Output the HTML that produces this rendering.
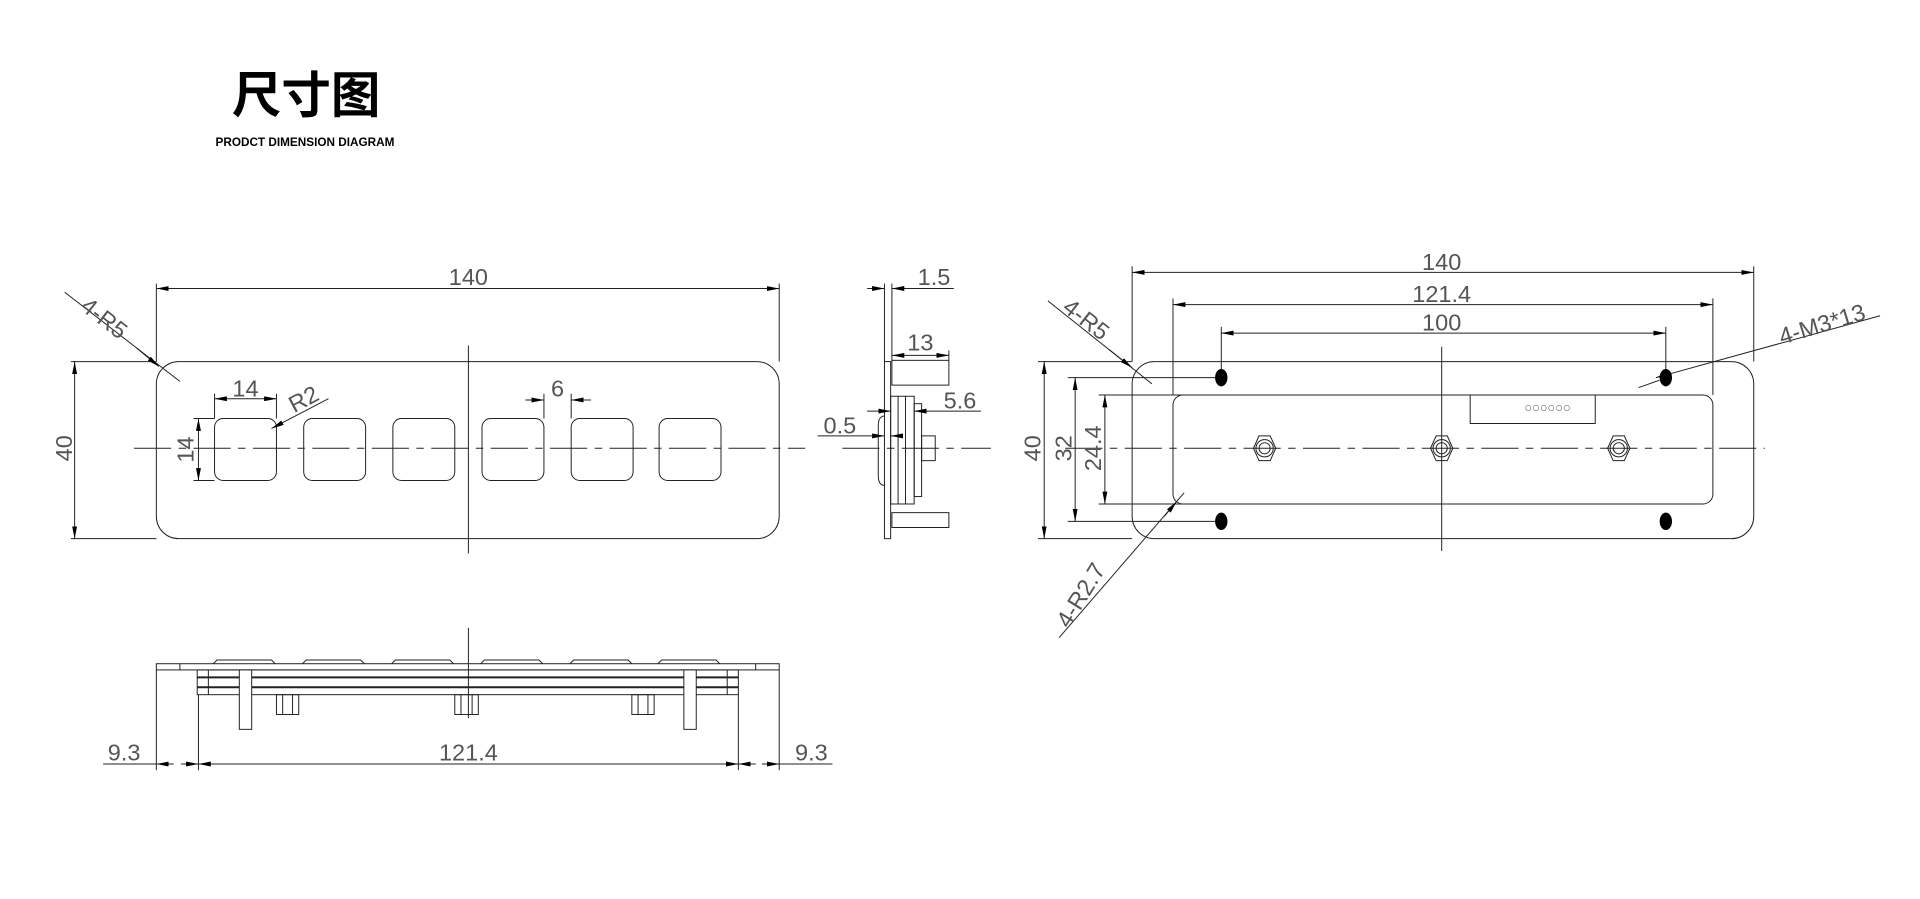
<!DOCTYPE html>
<html><head><meta charset="utf-8"><style>
html,body{margin:0;padding:0;background:#fff;width:1920px;height:899px;overflow:hidden}
svg{display:block}
.t{font-family:"Liberation Sans",sans-serif;font-size:19px;fill:#555;font-weight:300}
</style></head><body>
<svg width="1920" height="899" viewBox="0 0 1550 726" xmlns="http://www.w3.org/2000/svg">
<defs>
<marker id="a" viewBox="0 0 10 4" refX="10" refY="2" markerWidth="10" markerHeight="4" markerUnits="userSpaceOnUse" orient="auto-start-reverse"><path d="M0,0L10,2L0,4z" fill="#000"/></marker>
</defs>
<text x="247" y="91" text-anchor="middle" font-family="'Noto Sans CJK SC',sans-serif" font-weight="bold" font-size="40" fill="#000">尺寸图</text>
<text x="246" y="118" text-anchor="middle" font-family="'Liberation Sans',sans-serif" font-weight="bold" font-size="9.5" fill="#000">PRODCT DIMENSION DIAGRAM</text>

<g fill="none" stroke="#222" stroke-width="0.8">
<!-- FRONT VIEW -->
<rect x="126" y="292" width="503" height="143" rx="18"/>
<rect x="173" y="338" width="50" height="50" rx="7"/>
<rect x="245" y="338" width="50" height="50" rx="7"/>
<rect x="317" y="338" width="50" height="50" rx="7"/>
<rect x="389" y="338" width="50" height="50" rx="7"/>
<rect x="461" y="338" width="50" height="50" rx="7"/>
<rect x="532" y="338" width="50" height="50" rx="7"/>
<line x1="108" y1="362" x2="650" y2="362" stroke-dasharray="30,6,6,6"/>
<line x1="378" y1="279" x2="378" y2="447"/>
<line x1="126" y1="229" x2="126" y2="292"/><line x1="629" y1="229" x2="629" y2="292"/>
<line x1="126" y1="233" x2="629" y2="233" marker-start="url(#a)" marker-end="url(#a)"/>
<line x1="57" y1="292" x2="126" y2="292"/><line x1="57" y1="435" x2="126" y2="435"/>
<line x1="60" y1="292" x2="60" y2="435" marker-start="url(#a)" marker-end="url(#a)"/>
<line x1="173" y1="318" x2="173" y2="338"/><line x1="223" y1="318" x2="223" y2="338"/>
<line x1="173" y1="322" x2="223" y2="322" marker-start="url(#a)" marker-end="url(#a)"/>
<line x1="156" y1="338" x2="173" y2="338"/><line x1="156" y1="388" x2="173" y2="388"/>
<line x1="160" y1="338" x2="160" y2="388" marker-start="url(#a)" marker-end="url(#a)"/>
<line x1="265" y1="322" x2="219" y2="346" marker-end="url(#a)"/>
<line x1="439" y1="318" x2="439" y2="338"/><line x1="461" y1="318" x2="461" y2="338"/>
<line x1="424" y1="323" x2="439" y2="323" marker-end="url(#a)"/>
<line x1="477" y1="323" x2="461" y2="323" marker-end="url(#a)"/>
<line x1="52" y1="236" x2="145" y2="308"/>
<line x1="110" y1="281" x2="128" y2="296" marker-end="url(#a)"/>

<!-- SIDE VIEW -->
<rect x="714" y="292" width="5" height="143"/>
<line x1="714" y1="229" x2="714" y2="292"/><line x1="720" y1="229" x2="720" y2="292"/>
<line x1="700" y1="233" x2="714" y2="233" marker-end="url(#a)"/>
<line x1="770" y1="233" x2="720" y2="233" marker-end="url(#a)"/>
<rect x="720" y="291" width="46" height="20"/>
<rect x="720" y="414" width="46" height="12"/>
<line x1="766" y1="283" x2="766" y2="291"/>
<line x1="720" y1="287" x2="766" y2="287" marker-start="url(#a)" marker-end="url(#a)"/>
<rect x="719" y="320" width="19" height="87"/>
<line x1="725" y1="320" x2="725" y2="407"/><line x1="731" y1="320" x2="731" y2="407"/>
<rect x="738" y="326" width="6" height="75"/>
<rect x="744" y="352" width="11" height="20"/>
<path d="M714,336 q-5,0 -5,8 v40 q0,8 5,8"/>
<line x1="700" y1="332" x2="719" y2="332" marker-end="url(#a)"/>
<line x1="792" y1="332" x2="738" y2="332" marker-end="url(#a)"/>
<line x1="660" y1="352" x2="714" y2="352" marker-end="url(#a)"/>
<line x1="728" y1="352" x2="719" y2="352" marker-end="url(#a)"/>
<line x1="680" y1="362" x2="800" y2="362" stroke-dasharray="30,6,6,6"/>

<!-- BACK VIEW -->
<rect x="914" y="292" width="502" height="143" rx="18"/>
<rect x="947" y="319" width="436" height="88" rx="8"/>
<rect x="1187" y="319" width="101" height="23"/>
<line x1="860" y1="362" x2="1425" y2="362" stroke-dasharray="30,6,6,6"/>
<line x1="1164" y1="280" x2="1164" y2="445"/>
<line x1="914" y1="215" x2="914" y2="292"/><line x1="1416" y1="215" x2="1416" y2="292"/>
<line x1="914" y1="220" x2="1416" y2="220" marker-start="url(#a)" marker-end="url(#a)"/>
<line x1="947" y1="241" x2="947" y2="319"/><line x1="1383" y1="241" x2="1383" y2="319"/>
<line x1="947" y1="246" x2="1383" y2="246" marker-start="url(#a)" marker-end="url(#a)"/>
<line x1="986" y1="264" x2="986" y2="312"/><line x1="1345" y1="264" x2="1345" y2="312"/>
<line x1="986" y1="269" x2="1345" y2="269" marker-start="url(#a)" marker-end="url(#a)"/>
<line x1="838" y1="292" x2="914" y2="292"/><line x1="838" y1="435" x2="914" y2="435"/>
<line x1="843" y1="292" x2="843" y2="435" marker-start="url(#a)" marker-end="url(#a)"/>
<line x1="862" y1="305" x2="990" y2="305"/><line x1="862" y1="421" x2="990" y2="421"/>
<line x1="868" y1="305" x2="868" y2="421" marker-start="url(#a)" marker-end="url(#a)"/>
<line x1="887" y1="319" x2="960" y2="319"/><line x1="887" y1="407" x2="960" y2="407"/>
<line x1="892" y1="319" x2="892" y2="407" marker-start="url(#a)" marker-end="url(#a)"/>
<line x1="986" y1="415" x2="986" y2="428"/><line x1="1345" y1="415" x2="1345" y2="428"/>
<line x1="846" y1="243" x2="930" y2="310"/>
<line x1="895" y1="282" x2="914" y2="297" marker-end="url(#a)"/>
<line x1="855" y1="515" x2="956" y2="398"/>
<line x1="940" y1="417" x2="950" y2="405" marker-end="url(#a)"/>
<line x1="1518" y1="255" x2="1337" y2="305" marker-end="url(#a)"/>
<line x1="1323" y1="313" x2="1340" y2="307"/>
<!-- nuts -->
<g transform="translate(1021,362)"><polygon points="-9,0 -4.5,-10 4.5,-10 9,0 4.5,10 -4.5,10"/><circle r="7"/><circle r="4.5"/></g>
<g transform="translate(1164,362)"><polygon points="-9,0 -4.5,-10 4.5,-10 9,0 4.5,10 -4.5,10"/><circle r="7"/><circle r="4.5"/></g>
<g transform="translate(1307,362)"><polygon points="-9,0 -4.5,-10 4.5,-10 9,0 4.5,10 -4.5,10"/><circle r="7"/><circle r="4.5"/></g>

<!-- BOTTOM VIEW -->
<rect x="126" y="536" width="503" height="5"/>
<line x1="145" y1="536" x2="145" y2="541"/><line x1="610" y1="536" x2="610" y2="541"/>
<path d="M172,536 l3,-3 h44 l3,3 M244,536 l3,-3 h44 l3,3 M316,536 l3,-3 h44 l3,3 M388,536 l3,-3 h44 l3,3 M460,536 l3,-3 h44 l3,3 M531,536 l3,-3 h44 l3,3"/>
<rect x="159" y="541" width="437" height="20"/>
<line x1="159" y1="547" x2="596" y2="547" stroke-width="1.6"/>
<line x1="159" y1="555" x2="596" y2="555" stroke-width="1.6"/>
<line x1="168" y1="541" x2="168" y2="561"/><line x1="587" y1="541" x2="587" y2="561"/>
<rect x="193" y="541" width="10" height="48" fill="#fff"/>
<rect x="552" y="541" width="10" height="48" fill="#fff"/>
<rect x="223" y="561" width="18" height="16"/><line x1="228" y1="561" x2="228" y2="577"/><line x1="236" y1="561" x2="236" y2="577"/>
<rect x="367" y="561" width="19" height="16"/><line x1="372" y1="561" x2="372" y2="577"/><line x1="381" y1="561" x2="381" y2="577"/>
<rect x="510" y="561" width="18" height="16"/><line x1="515" y1="561" x2="515" y2="577"/><line x1="523" y1="561" x2="523" y2="577"/>
<line x1="378" y1="507" x2="378" y2="580"/>
<line x1="126" y1="541" x2="126" y2="622"/><line x1="160" y1="561" x2="160" y2="622"/>
<line x1="596" y1="561" x2="596" y2="622"/><line x1="629" y1="541" x2="629" y2="622"/>
<line x1="83" y1="617" x2="126" y2="617"/>
<line x1="140" y1="617" x2="126" y2="617" marker-end="url(#a)"/>
<line x1="146" y1="617" x2="160" y2="617" marker-end="url(#a)"/>
<line x1="160" y1="617" x2="596" y2="617" marker-start="url(#a)" marker-end="url(#a)"/>
<line x1="610" y1="617" x2="596" y2="617" marker-end="url(#a)"/>
<line x1="615" y1="617" x2="629" y2="617" marker-end="url(#a)"/>
<line x1="629" y1="617" x2="672" y2="617"/>
</g>
<g fill="#000">
<ellipse cx="986" cy="305" rx="5" ry="7"/><ellipse cx="1345" cy="305" rx="5" ry="7"/>
<ellipse cx="986" cy="421" rx="5" ry="7"/><ellipse cx="1345" cy="421" rx="5" ry="7"/>
</g>
<text x="1250" y="331" text-anchor="middle" font-family="'DejaVu Sans',sans-serif" font-size="6" fill="#333" letter-spacing="1">○○○○○○</text>

<g class="t">
<text x="378" y="230" text-anchor="middle">140</text>
<text transform="translate(58,362) rotate(-90)" text-anchor="middle">40</text>
<text x="198" y="320" text-anchor="middle">14</text>
<text transform="translate(156,363) rotate(-90)" text-anchor="middle">14</text>
<text transform="translate(248,328) rotate(-28)" text-anchor="middle">R2</text>
<text x="450" y="320" text-anchor="middle">6</text>
<text transform="translate(80,262) rotate(38)" text-anchor="middle">4-R5</text>
<text x="754" y="230" text-anchor="middle">1.5</text>
<text x="743" y="283" text-anchor="middle">13</text>
<text x="775" y="330" text-anchor="middle">5.6</text>
<text x="678" y="350" text-anchor="middle">0.5</text>
<text x="1164" y="218" text-anchor="middle">140</text>
<text x="1164" y="244" text-anchor="middle">121.4</text>
<text x="1164" y="267" text-anchor="middle">100</text>
<text transform="translate(840,362) rotate(-90)" text-anchor="middle">40</text>
<text transform="translate(865,362) rotate(-90)" text-anchor="middle">32</text>
<text transform="translate(889,362) rotate(-90)" text-anchor="middle">24.4</text>
<text transform="translate(873,263) rotate(38)" text-anchor="middle">4-R5</text>
<text transform="translate(878,484) rotate(-58)" text-anchor="middle">4-R2.7</text>
<text transform="translate(1473,268) rotate(-17)" text-anchor="middle">4-M3*13</text>
<text x="100" y="614" text-anchor="middle">9.3</text>
<text x="378" y="614" text-anchor="middle">121.4</text>
<text x="655" y="614" text-anchor="middle">9.3</text>
</g>
</svg>
</body></html>
